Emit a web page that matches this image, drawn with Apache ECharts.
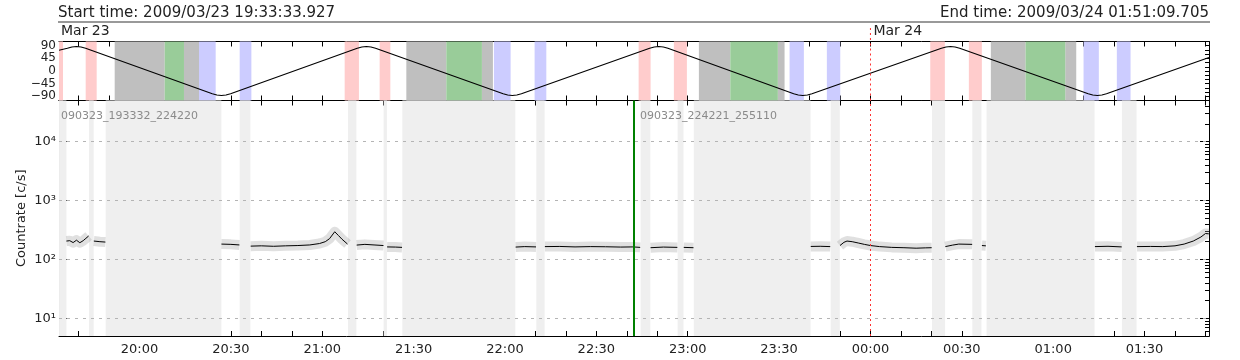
<!DOCTYPE html>
<html><head><meta charset="utf-8">
<script src="https://cdn.jsdelivr.net/npm/echarts@6/dist/echarts.min.js"></script>
<style>html,body{margin:0;padding:0;background:#fff}#c{width:1240px;height:360px}</style>
</head><body><div id="c"></div>
<script>
// ---------------- data (time in minutes since 2009/03/23 00:00) ----------------
const startLabel = 'Start time: 2009/03/23 19:33:33.927';
const endLabel = 'End time: 2009/03/24 01:51:09.705';
const tMin = 1173.5655;
const tMax = 1551.1618;
const dayLabels = [['Mar 23', 1173.5655], ['Mar 24', 1440]];
const dayLine = 1440;
const triggerLine = 1362.35;
const segmentNames = [['090323_193332_224220', 1173.5655], ['090323_224221_255110', 1362.35]];

const orbitTimes = [1173.57, 1176.3, 1177.8, 1179.3, 1180.8, 1182.3,
  1223.9, 1225.4, 1226.9, 1228.4, 1229.9,
  1271.5, 1273.0, 1274.5, 1276.0, 1277.5,
  1319.4, 1320.9, 1322.4, 1323.9, 1325.4,
  1367.5, 1369.0, 1370.5, 1372.0, 1373.5,
  1414.8, 1416.3, 1417.8, 1419.3, 1420.8,
  1463.3, 1464.8, 1466.3, 1467.8, 1469.3,
  1511.5, 1513.0, 1514.5, 1516.0, 1517.5, 1551.16];
const orbitValues = [74, 81, 85.5, 87, 85.5, 81,
  -81, -85.5, -87, -85.5, -81,
  81, 85.5, 87, 85.5, 81,
  -81, -85.5, -87, -85.5, -81,
  81, 85.5, 87, 85.5, 81,
  -81, -85.5, -87, -85.5, -81,
  81, 85.5, 87, 85.5, 81,
  -81, -85.5, -87, -85.5, -81, 48];

const pinkBands = [[1173.57,1174.88],[1182.33,1185.94],[1267.36,1272.05],[1278.85,1282.36],[1363.88,1367.81],[1375.46,1379.73],[1459.64,1464.43],[1472.31,1476.58]];
const grayBands = [[1191.85,1208.27],[1214.60,1219.53],[1287.61,1300.74],[1312.43,1316.04],[1383.67,1393.98],[1409.60,1411.80],[1479.53,1490.93],[1503.96,1507.57]];
const greenBands = [[1208.27,1214.60],[1300.74,1312.43],[1393.98,1409.60],[1490.93,1503.96]];
const blueBands = [[1219.53,1225.01],[1232.89,1236.73],[1316.37,1321.85],[1329.73,1333.57],[1413.44,1418.14],[1425.69,1430.09],[1509.97,1514.99],[1520.90,1525.40]];
const gapBands = [[1173.57,1176.00],[1183.42,1184.96],[1188.90,1226.88],[1232.89,1236.40],[1268.44,1271.20],[1280.16,1281.24],[1286.30,1323.40],[1330.29,1333.02],[1364.53,1367.72],[1376.68,1378.61],[1382.00,1420.34],[1426.94,1429.93],[1460.20,1464.50],[1473.46,1476.45],[1478.12,1513.58],[1522.57,1527.37]];

const countSegments = [
  [[1176.0,205],[1177.1,208],[1178.2,193],[1179.3,212],[1180.4,192],[1181.5,208],[1182.4,228],[1183.3,250]],
  [[1185.0,205],[1187.0,200],[1188.8,197]],
  [[1226.9,182],[1230.0,180],[1232.8,176]],
  [[1236.5,168],[1240,170],[1244,167],[1248,170],[1252,172],[1255.9,176],[1259.1,186],[1261,200],[1262.4,225],[1264.1,295],[1265.3,255],[1266.5,220],[1268.3,182]],
  [[1271.3,175],[1274,180],[1277,176],[1280.1,172]],
  [[1281.3,163],[1284,162],[1286.2,160]],
  [[1323.5,162],[1326.5,165],[1330.2,163]],
  [[1333.1,165],[1338,166],[1343,163],[1348,165],[1353,164],[1358,162],[1362,163],[1364.4,160]],
  [[1367.8,158],[1372,162],[1376.6,160]],
  [[1378.7,160],[1381.9,158]],
  [[1420.4,166],[1423.5,167],[1426.8,165]],
  [[1430.0,172],[1431.3,195],[1432.3,205],[1434,200],[1436,190],[1438,180],[1440,172],[1443,165],[1447,160],[1451,158],[1455,155],[1458,157],[1460.1,158]],
  [[1464.6,165],[1467,175],[1469,182],[1473.4,180]],
  [[1476.6,172],[1477.9,170]],
  [[1513.7,165],[1518,167],[1522.5,163]],
  [[1527.5,165],[1532,166],[1536,165],[1540,170],[1543,182],[1546,205],[1548.5,240],[1550,275],[1551.1,272]]
];

const timeTicks = [1180,1190,1200,1210,1220,1230,1240,1250,1260,1270,1280,1290,1300,1310,1320,1330,1340,1350,1360,1370,1380,1390,1400,1410,1420,1430,1440,1450,1460,1470,1480,1490,1500,1510,1520,1530,1540,1550];
const timeLabels = [1200,1230,1260,1290,1320,1350,1380,1410,1440,1470,1500,1530];
const orbitLabelVals = [-90,-45,0,45,90];
const orbitTickVals = [-105,-90,-75,-60,-45,-30,-15,0,15,30,45,60,75,90,105];
const decadeVals = [10,100,1000,10000];
const minorLogVals = [6,7,8,9,20,30,40,50,60,70,80,90,200,300,400,500,600,700,800,900,2000,3000,4000,5000,6000,7000,8000,9000,20000,30000,40000];

// ---------------- chart ----------------
const FONT = '"DejaVu Sans", sans-serif';
const TXT = '#222';
const sup = {'1':'¹','2':'²','3':'³','4':'⁴'};
const fmtTime = v => { const h = Math.floor(v/60)%24, m = Math.round(v%60); return String(h).padStart(2,'0')+':'+String(m).padStart(2,'0'); };

const orbitData = orbitTimes.map((t,i)=>[t, orbitValues[i]]);
const countData = [];
countSegments.forEach((s,i)=>{ if(i) countData.push([s[0][0]-0.01,'-']); s.forEach(p=>countData.push(p)); });

const band = (arr,color)=>arr.map(b=>[{xAxis:b[0], itemStyle:{color}},{xAxis:b[1]}]);

const G0 = {left:59, right:31, top:41.5, height:59};
const G1 = {left:59, right:31, top:100.5, height:235.5};

const lineAx = {onZero:false, lineStyle:{color:'#000', width:1}};
function xAx(grid, pos, labels){
  return {type:'value', gridIndex:grid, position:pos, min:tMin, max:tMax,
    axisLine:lineAx, splitLine:{show:false},
    axisTick:{show:true, inside:true, length:5, customValues:timeTicks, lineStyle:{color:'#000'}},
    axisLabel: labels ? {show:true, customValues:timeLabels, formatter:fmtTime, margin:7, fontSize:13, color:TXT, fontFamily:FONT} : {show:false}};
}
function logAx(pos, major){
  return {type:'log', logBase:10, gridIndex:1, position:pos, min:5, max:50000,
    axisLine:lineAx, splitLine:{show:false},
    axisTick:{show:true, inside:true, length: major?9:4, customValues: major?decadeVals:minorLogVals, lineStyle:{color:'#000'}},
    axisLabel: (major && pos==='left') ? {show:true, customValues:decadeVals, formatter:v=>'10'+sup[String(Math.round(Math.log10(v)))], margin:3, fontSize:13, color:TXT, fontFamily:FONT} : {show:false}};
}

const chart = echarts.init(document.getElementById('c'), null, {renderer:'canvas'});
const option = {
  animation:false,
  backgroundColor:'#fff',
  grid:[G0, G1],
  xAxis:[xAx(0,'bottom',false), xAx(0,'top',false), xAx(1,'bottom',true), xAx(1,'top',false)],
  yAxis:[
    {type:'value', gridIndex:0, position:'left', min:-105, max:105, axisLine:lineAx, splitLine:{show:false},
     axisTick:{show:true, inside:true, length:4, customValues:orbitTickVals, lineStyle:{color:'#000'}},
     axisLabel:{show:true, customValues:orbitLabelVals, formatter:v=>String(v).replace('-','−'), margin:3, fontSize:12, color:TXT, fontFamily:FONT}},
    {type:'value', gridIndex:0, position:'right', min:-105, max:105, axisLine:lineAx, splitLine:{show:false},
     axisTick:{show:true, inside:true, length:4, customValues:orbitTickVals, lineStyle:{color:'#000'}}, axisLabel:{show:false}},
    logAx('left', true), logAx('left', false), logAx('right', true), logAx('right', false)
  ],
  series:[
    {type:'line', xAxisIndex:0, yAxisIndex:0, data:[], z:1, silent:true,
     markArea:{silent:true, data:[].concat(band(pinkBands,'#ffcccc'), band(grayBands,'#bfbfbf'), band(greenBands,'#99cc99'), band(blueBands,'#ccccff'))}},
    {type:'line', xAxisIndex:0, yAxisIndex:0, data:orbitData, z:4, showSymbol:false, smooth:false,
     lineStyle:{color:'#000', width:1.1},
     markLine:{silent:true, symbol:'none', label:{show:false}, lineStyle:{color:'#ff3030', type:[2,3], width:1}, data:[{xAxis:dayLine}]}},
    {type:'line', xAxisIndex:2, yAxisIndex:2, data:[], z:1, silent:true,
     markArea:{silent:true, data:band(gapBands,'#efefef')},
     markLine:{silent:true, symbol:'none', label:{show:false}, lineStyle:{color:'#b4b4b4', type:[3,5], width:1}, data:decadeVals.map(v=>({yAxis:v}))}},
    {type:'line', xAxisIndex:2, yAxisIndex:2, data:countData, z:2, showSymbol:false, connectNulls:false,
     lineStyle:{color:'rgba(160,160,160,0.33)', width:10, cap:'butt', join:'round'}},
    {type:'line', xAxisIndex:2, yAxisIndex:2, data:countData, z:3, showSymbol:false, connectNulls:false,
     lineStyle:{color:'#000', width:1},
     markLine:{silent:true, symbol:'none', label:{show:false}, data:[
       {xAxis:dayLine, lineStyle:{color:'#ff3030', type:[2,3], width:1}},
       {xAxis:triggerLine, lineStyle:{color:'#008000', type:'solid', width:2}}]}}
  ]
};
chart.setOption(option);

const px = t => chart.convertToPixel({xAxisIndex:0}, t);
const xl = px(tMin), xr = px(tMax), xd = px(dayLine);
const g = [
  {type:'text', z:100, x:xl-1, y:13, style:{text:startLabel, font:'15px '+FONT, fill:TXT, align:'left', verticalAlign:'middle'}},
  {type:'text', z:100, x:xr, y:13, style:{text:endLabel, font:'15px '+FONT, fill:TXT, align:'right', verticalAlign:'middle'}},
  {type:'line', z:100, shape:{x1:xl-1, y1:22, x2:xr+1, y2:22}, style:{stroke:'#777', lineWidth:1.5}},
  {type:'line', z:100, shape:{x1:xd, y1:28, x2:xd, y2:41.5}, style:{stroke:'#ff3030', lineWidth:1, lineDash:[2,3]}},
  {type:'text', z:100, x:22, y:G1.top+G1.height/2, rotation:Math.PI/2, style:{text:'Countrate [c/s]', font:'13px '+FONT, fill:TXT, align:'center', verticalAlign:'middle'}}
];
dayLabels.forEach(([txt,t])=>{
  g.push({type:'text', z:100, x:px(t)+(t===tMin?2:3), y:31.5, style:{text:txt, font:'14px '+FONT, fill:TXT, align:'left', verticalAlign:'middle'}});
});
segmentNames.forEach(([txt,t],i)=>{
  g.push({type:'text', z:100, x:px(t)+(i?6:2), y:116.5, style:{text:txt, font:'11px '+FONT, fill:'#8a8a8a', align:'left', verticalAlign:'middle'}});
});
chart.setOption({graphic:g});
</script>
</body></html>
